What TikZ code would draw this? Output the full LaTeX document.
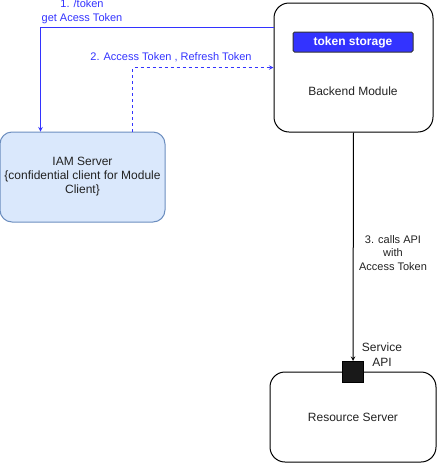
\documentclass[tikz,border=0pt]{standalone}
\usepackage{fontspec}
\setmainfont{Liberation Sans}
\usepackage{xcolor}
\usetikzlibrary{positioning,shapes,arrows}
\definecolor{flowblue}{RGB}{51,51,255}
\definecolor{iamfill}{RGB}{218,232,252}
\definecolor{iamline}{RGB}{108,142,191}
\definecolor{txtgray}{RGB}{34,34,34}

\begin{document}
\begin{tikzpicture}[x=1pt,y=-1pt,>=stealth,line width=1pt,
  box/.style={draw=black,rounded corners=15pt,align=center,text=txtgray,font=\fontsize{12}{14}\selectfont},
  flow/.style={draw=flowblue,->},
  lbl/.style={align=center,font=\fontsize{11}{14}\selectfont,inner sep=0pt}]
\useasboundingbox (0,0) rectangle (437,464);
% boxes
\node [box,minimum width=159pt,minimum height=129pt] (backend) at (353.5,67.5) {};
\node [text=txtgray,font=\fontsize{12}{14}\selectfont] (backendtxt) at (353,91) {Backend Module};
\node [draw=black!80,fill=flowblue,rounded corners=1.5pt,minimum width=120pt,minimum height=20pt,inner sep=0pt,
  text=white,font=\bfseries\fontsize{12}{14}\selectfont] (storage) at (353,42) {token storage};
\node [box,draw=iamline,fill=iamfill,rounded corners=12pt,minimum width=165pt,minimum height=90pt] (iam) at (82.5,177)
  {IAM Server\\\{confidential client for Module\\Client\}};
\node [box,minimum width=166pt,minimum height=90pt] (resource) at (353,417) {Resource Server};
\node [fill=black!90,draw=black,minimum size=21pt,inner sep=0pt] (api) at (353,372) {};
% connectors
\draw [flow] ([yshift=-25pt]backend.north west) -| ([xshift=41pt]iam.north west);
\draw [flow,dashed] ([xshift=133pt]iam.north west) |- ([yshift=-65pt]backend.north west);
\draw [black,->] (backend.south) -- (api.north);
% labels
\node [lbl,text=flowblue] (lblone) at (82,12) {1. /token\\get Acess Token};
\node [lbl,text=flowblue] (lbltwo) at (171,57) {2. Access Token , Refresh Token};
\node [lbl,text=txtgray,font=\fontsize{11}{13.5}\selectfont] (lblthree) at (393,253) {3. calls API\\with\\Access Token};
\node [lbl,text=txtgray,font=\fontsize{12}{15}\selectfont] (lblapi) at (382,355) {Service\\API};
\end{tikzpicture}
\end{document}
